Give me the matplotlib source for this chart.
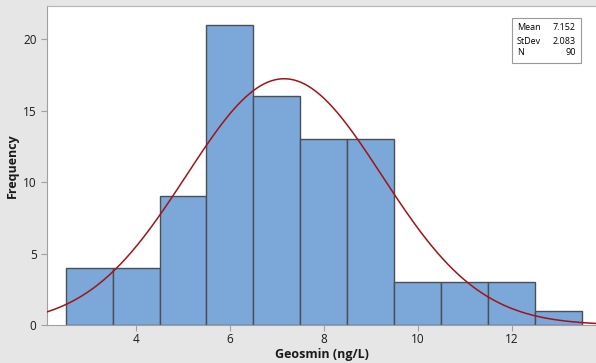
import matplotlib.pyplot as plt
import numpy as np

# Datos del histograma (centros de clase, ancho 1)
centros = [3, 4, 5, 6, 7, 8, 9, 10, 11, 12, 13]
frecuencias = [4, 4, 9, 21, 16, 13, 13, 3, 3, 3, 1]
media = 7.152
desv = 2.083
n = 90
ancho_clase = 1.0

plt.rcParams['font.family'] = ['Open Sans', 'DejaVu Sans']

fig = plt.figure(figsize=(5.96, 3.63), dpi=100, facecolor='#e6e6e6')
ax = fig.add_axes([0.0789, 0.1047, 0.9211, 0.8788])
ax.set_facecolor('white')

ax.bar(centros, frecuencias, width=ancho_clase, color='#7ba7d9',
       edgecolor='#4a4f57', linewidth=1.0, zorder=2)

# Curva normal ajustada
xs = np.linspace(2.0, 14.0, 400)
ys = n * ancho_clase / (desv * np.sqrt(2 * np.pi)) * np.exp(-0.5 * ((xs - media) / desv) ** 2)
ax.plot(xs, ys, color='#a01419', lw=1.1, zorder=3)

ax.set_xlim(2.106, 13.79)
ax.set_ylim(0, 22.33)
ax.set_xticks([4, 6, 8, 10, 12])
ax.set_yticks([0, 5, 10, 15, 20])

ax.spines['right'].set_visible(False)
ax.spines['top'].set_color('#b4b4b4')
ax.spines['left'].set_color('#a0a0a0')
ax.spines['bottom'].set_color('#a0a0a0')
ax.tick_params(colors='#a0a0a0', labelcolor='#1a1a1a', labelsize=8.5, length=4)
ax.tick_params(axis='x', pad=2)

ax.set_xlabel("Geosmin (ng/L)", fontsize=9, fontweight='bold', color='#1a1a1a')
ax.xaxis.set_label_coords(0.5, -0.094)
ax.xaxis.label.set_va('center')
ax.set_ylabel("Frequency", fontsize=9, fontweight='bold', color='#1a1a1a', labelpad=3)

# Cuadro de estadísticas
etiquetas = ["Mean", "StDev", "N"]
valores = ["7.152", "2.083", "90"]
yy = [0.934, 0.890, 0.853]
for et, va, y in zip(etiquetas, valores, yy):
    ax.text(0.856, y, et, transform=ax.transAxes, fontsize=6.5, va='center', ha='left', zorder=5)
    ax.text(0.963, y, va, transform=ax.transAxes, fontsize=6.5, va='center', ha='right', zorder=5)
ax.add_patch(plt.Rectangle((0.847, 0.821), 0.126, 0.141, transform=ax.transAxes,
                           facecolor='white', edgecolor='#9a9a9a', lw=0.8, zorder=4))

plt.savefig("out.png", dpi=100, facecolor=fig.get_facecolor())
